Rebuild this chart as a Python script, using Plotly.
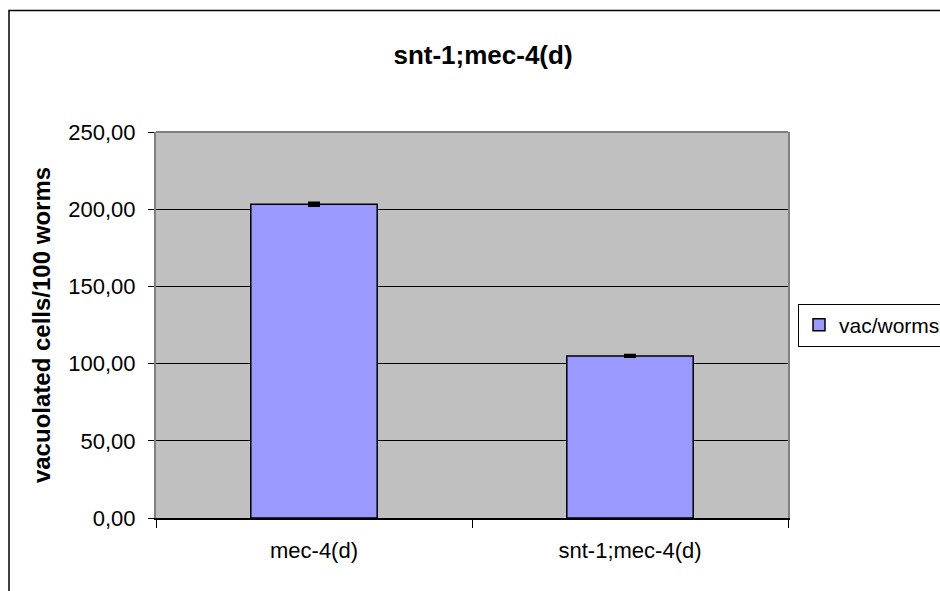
import plotly.graph_objects as go

categories = ["mec-4(d)", "snt-1;mec-4(d)"]
values = [203.2, 105.0]
errors = [1.0, 0.6]
series_name = "vac/worms"
y_ticks = [0, 50, 100, 150, 200, 250]

FONT = "Liberation Sans, Arial, sans-serif"

fig = go.Figure()
fig.add_trace(go.Bar(
    x=categories, y=values, name=series_name,
    marker=dict(color="#9999FF", line=dict(color="black", width=1.5)),
    error_y=dict(type="data", array=errors, visible=True, color="black", thickness=2.5, width=6),
    showlegend=True,
))

L, R, T, B = 156, 152, 132, 73
W, H = 940, 591
pw, ph = W - L - R, H - T - B

def px2x(px):
    return (px - L) / pw

def px2y(py):
    return (H - B - py) / ph

fig.update_layout(
    width=W, height=H,
    margin=dict(l=L, r=R, t=T, b=B, pad=0, autoexpand=False),
    paper_bgcolor="white",
    plot_bgcolor="#C0C0C0",
    bargap=0.6,
    separators=",.",
    font=dict(family=FONT, size=22, color="black"),
    title=dict(text="<b>snt-1;mec-4(d)</b>", font=dict(family=FONT, size=26, color="black"),
               x=px2x(483), xref="paper", xanchor="center",
               y=1 - 55 / H, yref="container", yanchor="middle"),
    xaxis=dict(
        showgrid=False, showline=True, linecolor="black", linewidth=1.5,
        ticks="outside", tickson="boundaries", ticklen=8, tickcolor="black", tickwidth=1,
        ticklabelstandoff=12, tickfont=dict(family=FONT, size=22),
    ),
    yaxis=dict(
        range=[0, 250], tickvals=y_ticks, tickformat=".2f",
        showgrid=True, gridcolor="black", gridwidth=1, zeroline=False,
        showline=True, linecolor="#808080", linewidth=2, mirror=True,
        ticks="outside", ticklen=6, tickcolor="black", tickwidth=1,
        ticklabelstandoff=8, tickfont=dict(family=FONT, size=22),
        title=dict(text="<b>vacuolated cells/100 worms</b>", font=dict(family=FONT, size=24), standoff=11),
    ),
    legend=dict(
        x=px2x(798), xanchor="left", y=px2y(325), yanchor="middle",
        bordercolor="black", borderwidth=1, bgcolor="white",
        font=dict(family=FONT, size=21),
        itemwidth=30,
    ),
    shapes=[
        dict(type="line", xref="paper", yref="paper", x0=0, x1=1, y0=1, y1=1,
             line=dict(color="#808080", width=2), layer="above"),
        dict(type="rect", xref="paper", yref="paper",
             x0=px2x(9), x1=px2x(960), y0=px2y(10.5), y1=px2y(620),
             line=dict(color="black", width=1.5), fillcolor="rgba(0,0,0,0)", layer="above"),
    ],
)

fig.write_html("out.html")
